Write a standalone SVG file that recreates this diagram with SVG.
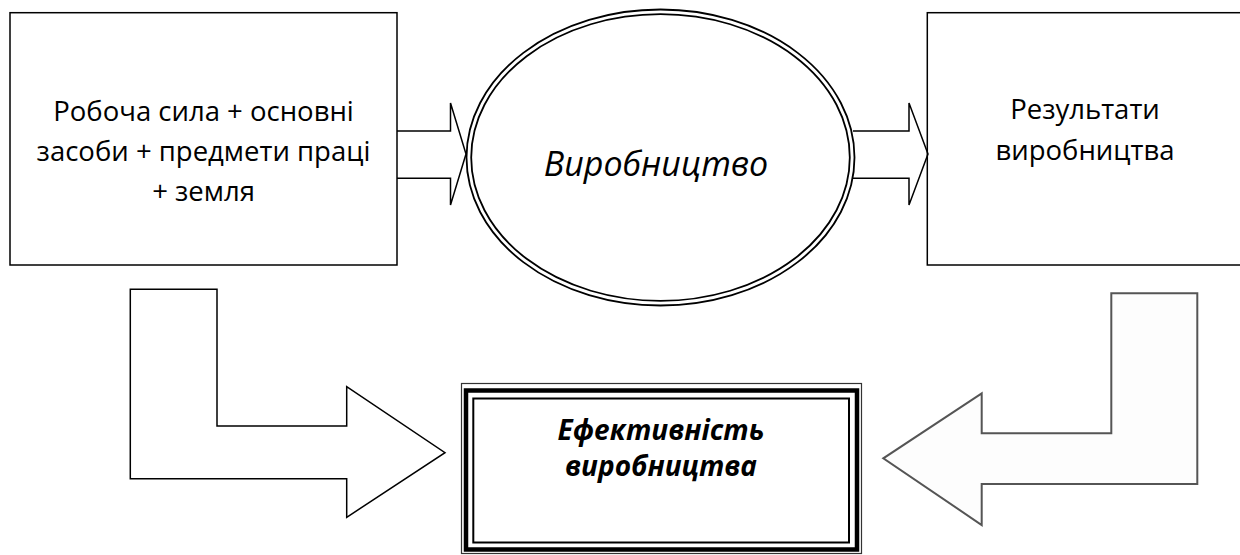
<svg xmlns="http://www.w3.org/2000/svg" width="1240" height="555" viewBox="0 0 1240 555">
<style>
.box{fill:#fff;stroke:#000;stroke-width:1.5}
.ell{fill:none;stroke:#000;stroke-width:1.8}
.arr{fill:none;stroke:#000;stroke-width:1.5;stroke-linejoin:miter}
.t{font-family:"Open Sans","Noto Sans",sans-serif;font-size:27.5px;fill:#000;text-anchor:middle}
.ti{font-family:"Open Sans","Noto Sans",sans-serif;font-size:34px;font-style:italic;fill:#000;text-anchor:middle}
.tb{font-family:"Open Sans","Noto Sans",sans-serif;font-size:28px;font-style:italic;font-weight:bold;fill:#000;text-anchor:middle}
</style>
<rect width="1240" height="555" fill="#fff"/>
<g id="resources">
<rect class="box" x="10" y="12.7" width="387" height="252.3"/>
<text class="t" x="203.5" y="120.5">Робоча сила + основні</text>
<text class="t" x="203.5" y="160.5">засоби + предмети праці</text>
<text class="t" x="203.5" y="200.5">+ земля</text>
</g>
<g id="results">
<rect class="box" x="927.3" y="12.7" width="320" height="252.3"/>
<text class="t" x="1085" y="118.5">Результати</text>
<text class="t" x="1085" y="160">виробництва</text>
</g>
<g id="production">
<ellipse class="ell" cx="660.5" cy="157.5" rx="194" ry="148"/>
<ellipse class="ell" cx="660.5" cy="157.5" rx="189.3" ry="143.3"/>
<text class="ti" x="656" y="176">Виробництво</text>
</g>
<g id="efficiency">
<rect x="461.5" y="383.5" width="400" height="170" fill="#fff" stroke="#333" stroke-width="1.2"/>
<rect x="466" y="390.5" width="391" height="159" fill="none" stroke="#000" stroke-width="4.5"/>
<rect x="473.3" y="398.5" width="375.7" height="144" fill="none" stroke="#000" stroke-width="2"/>
<text class="tb" x="661" y="440">Ефективність</text>
<text class="tb" x="661" y="476">виробництва</text>
</g>
<g id="connectors">
<path class="arr" d="M397,131 H450.5 V103 L466,154 L450.5,205 V178.3 H397"/>
<path class="arr" d="M853,131 H909 V103 L928,154 L909,205 V178.3 H853"/>
<polygon class="arr" points="130.3,289.3 217,289.3 217,426 346.7,426 346.7,386.7 445,452.7 346.7,517.3 346.7,478.7 130.3,478.7" style="fill:#fff"/>
<polygon points="1111.3,293.3 1197.3,293.3 1197.3,484 981.7,484 981.7,525 883.3,458.3 981.7,393.3 981.7,433.3 1111.3,433.3" fill="#fdfdfd" stroke="#555" stroke-width="2"/>
</g>
</svg>
